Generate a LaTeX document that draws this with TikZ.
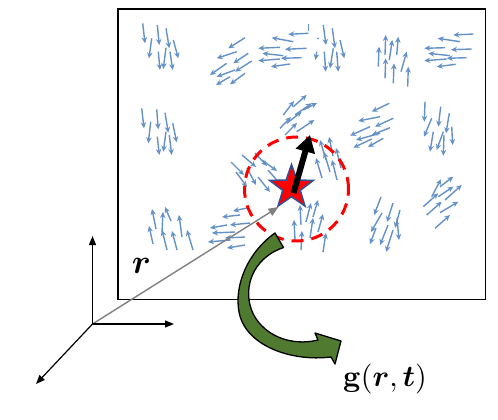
\documentclass[tikz,border=0pt]{standalone}
\usepackage{amsmath,bm}
\usetikzlibrary{arrows.meta,shapes.geometric}
\definecolor{fieldblue}{RGB}{100,146,200}
\definecolor{gfill}{RGB}{80,122,48}
\definecolor{starblue}{RGB}{50,80,150}
\begin{document}
\begin{tikzpicture}[x=1pt,y=-1pt,
  fa/.style={fieldblue, line width=1.4pt, -{Stealth[length=6pt,width=5.5pt]}},
  axisarrow/.style={black, line width=1.2pt, -{Triangle[length=9pt,width=7pt]}}]
\useasboundingbox (0,0) rectangle (498,420);
% frame
\draw[line width=1.5pt] (118,9) rectangle (485.5,299.5);
% field arrows
\foreach \a/\b/\c/\d in {
 % cluster 1 (down)
 142.7/23.3/145/43.3, 157.3/25/159.3/45, 166/28.3/169.3/48.3, 151.7/38.3/149/58.3,
 173.3/40/178.3/58.3, 158.3/51.7/160/70, 166/47.7/163.3/69, 170/51.7/172.7/70,
 % cluster 2 (down-left)
 245/37.7/228.3/48.3, 236.7/51.7/216.7/58.3, 248.3/53.3/233.3/63.3, 226.7/63.3/210/75,
 251.7/61/235/71.7, 235/70/216.7/76.7, 245/73.3/230/84.3, 230/76.7/216/85,
 % cluster 3 (left)
 308.3/33.3/288.3/34.3, 293.3/41.7/271.7/37.7, 306.7/48.3/285/49.3, 280/47.3/258.3/48.3,
 283.3/55.7/262.3/53.3, 301.7/57.7/281/58.3, 280/59/258.3/60.7, 290/64/271/66.7,
 % cluster 4 (down)
 323.3/25/326/45, 332.3/28.3/335/48.3, 340/40/344.3/58.3, 324.3/51.7/325.7/71.7,
 333.3/48.3/330/68.3, 336.7/51.7/338.3/71.7, 316.7/51.7/315.5/60,
 % cluster 5 (up)
 378.3/66.7/379/46.7, 385/55/385.7/35, 389.3/60/392.3/40, 396.7/55/398.3/36.7,
 385/78.3/385.7/58.3, 393.3/83.3/394/63.3, 401/71.7/406.7/51.7, 407.7/86.7/408.3/66.7,
 % cluster 6 (left)
 473.3/34/453.3/35, 460/41.7/437.7/38.3, 445/47.7/424.3/48.3, 471.7/49/451/49.7,
 450/55.7/428.3/53.3, 466.7/57.7/446.7/58.3, 446.7/59/424.3/60.7, 455.7/64.3/436.7/66.7,
 % cluster 7 (down)
 141.7/108.3/144/128.3, 156.7/109.3/158.3/129.3, 165/112.7/168.3/132.7, 150.7/121.7/148.3/143.3,
 172.7/123.3/176.7/142.3, 157.3/136.7/159.3/155, 166/131.7/163.3/151.7, 169.3/135/171.7/155,
 % cluster 8 (up-right)
 283.3/115/294/101, 293.3/106.7/306.7/95, 295/115/311.7/103.3, 280/128.3/291/117,
 286.7/123.3/301.7/111.7, 285/135/297/123, 296.7/131.7/314.3/120, 303.3/110/317/103,
 % cluster 9 (left-down)
 389.3/103.3/371.7/111.7, 380/116.7/358.3/121, 393.3/118.3/375/126.7, 370/126.7/350/135.7,
 390/127.7/371.7/135, 380/133.3/356/140, 383.3/138.3/368/147, 371.7/139/353.3/147.7,
 % cluster 10 (down)
 425/101.7/424.3/121.7, 440.7/106.7/438.3/126.7, 449.3/113.3/446/133.3, 431.7/118.3/424/136.7,
 451.7/126.7/452.7/145, 433.3/131.7/430/151.7, 443.3/131.7/436.7/150, 444/135/443.3/155.7,
 % cluster 11 (down-right)
 231/162/244/175, 242/155/256/167, 255/153/267/166, 247/168/256/185,
 262/160/277/171, 258/177/270/192, 268/170/281/185, 236/172/247/187,
 % cluster 12 (up)
 322/178/316/158, 330/172/324/152, 337/180/332/160, 341/168/336/148,
 326/160/320/140, 333/156/329/137,
 % cluster 13 (up-right)
 423.3/206.7/438.3/193.3, 431.7/196.7/441/179.3, 438.3/196.7/453.3/186.7, 440/186.7/453.3/176.7,
 445/200/461.7/185, 426.7/215/441.7/201.7, 440/212.7/458.3/201.7, 435/228.3/450/215,
 % cluster 14 (up)
 156/229/152/209, 162/232/163/212, 171/221/165/207, 167/250/162/230,
 177/250/172/231, 182/237/179/215, 193/250/187/230, 153/244/149/226,
 % cluster 15 (left)
 247/208/233/211, 240/215/222/217, 250/223/230/225, 227/225/210/228,
 235/232/212/233, 245/237/225/238, 230/240/208/242, 245/245/227/248,
 % cluster 16 (up)
 295/240/294/220, 301/225/300/205, 306/222/311/203, 313/217/318/200,
 310/238/313/218, 318/232/323/214, 323/252/326/233, 301/250/302/231,
 % cluster 17 (down-left)
 381/197/374/215, 393/203/387/222, 400/210/395/228, 382/213/371/232,
 397/218/399/240, 388/225/380/245, 393/230/386/252, 376/228/370/244}
 \draw[fa] (\a,\b) -- (\c,\d);
% small fragments
\draw[fieldblue, line width=1.3pt] (308.3,24.5) -- (308.3,31);
\fill[fieldblue] (318,38.5) circle (1pt);
% position vector
\coordinate (O) at (92.5,324);
\coordinate (rtip) at (278.5,207);
\draw[gray, line width=1.4pt, -{Triangle[length=10pt,width=8pt]}] (O) -- (rtip);
% dashed neighbourhood
\node (nb) [circle, draw=red, dash pattern=on 12pt off 8pt, line width=3pt,
  minimum size=104pt, inner sep=0pt] at (296.5,189) {};
% star
\node (st) [star, star points=5, star point ratio=2.5, fill=red, draw=starblue,
  line width=1.5pt, minimum size=46pt, inner sep=0pt] at (291.5,187.5) {};
% orientation arrow
\coordinate (otip) at (310,135);
\draw[line width=6pt, -{Triangle[length=17pt,width=19pt]}] (293.5,193) -- (otip);
% green curved arrow
\filldraw[fill=gfill, draw=black, line width=1.3pt, line join=round]
  (275,233) .. controls (248,252) and (234,285) .. (239,312)
  .. controls (245,345) and (290,362) .. (331,357)
  -- (335,364) -- (341,341) -- (315,333) -- (318,340)
  .. controls (285,348) and (256,330) .. (250,305)
  .. controls (244,280) and (258,256) .. (283.5,247.5) -- cycle;
% axes
\coordinate (ax1) at (92.5,236);
\coordinate (ax2) at (174,324);
\coordinate (ax3) at (36,384);
\draw[axisarrow] (O) -- (ax1);
\draw[axisarrow] (O) -- (ax2);
\draw[axisarrow] (O) -- (ax3);
% labels
\node (rlab) [scale=3.4] at (141.5,266) {$\bm{r}$};
\node (glab) [scale=3.0] at (385,379) {$\mathbf{g}(\bm{r},\bm{t})$};
\end{tikzpicture}
\end{document}
